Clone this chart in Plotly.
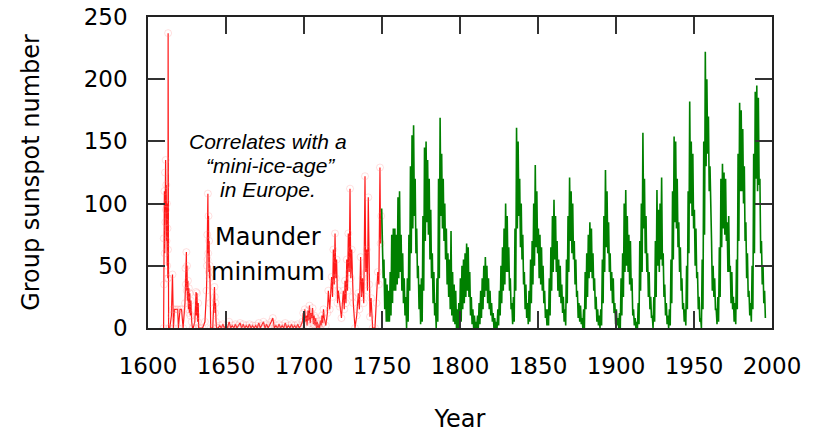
import plotly.graph_objects as go

# ---------------- data ----------------
# early (pre-1750) group sunspot observations, read off the picture
red_years = [
    1610.0, 1610.1, 1610.3, 1610.5, 1610.7, 1610.9, 1611.1, 1611.3, 1611.5, 1611.7,
    1611.9, 1612.1, 1612.3, 1612.5, 1612.7, 1612.8, 1612.9, 1613.0, 1613.2, 1614.0,
    1615.0, 1615.7, 1615.9, 1616.3, 1617.0, 1618.0, 1619.0, 1619.5, 1620.5, 1621.5,
    1622.5, 1623.7, 1624.0, 1624.3, 1624.6, 1624.8, 1625.0, 1625.3, 1625.6, 1625.9,
    1626.2, 1626.5, 1626.8, 1627.1, 1627.5, 1628.0, 1628.5, 1629.0, 1630.0, 1630.8,
    1631.0, 1631.4, 1631.8, 1632.2, 1632.5, 1633.5, 1635.0, 1636.5, 1637.5, 1637.8,
    1638.0, 1638.2, 1638.4, 1638.6, 1638.8, 1639.0, 1639.2, 1639.4, 1639.6, 1639.8,
    1640.2, 1641.5, 1642.6, 1642.8, 1643.0, 1643.3, 1643.6, 1644.0,
    1645, 1646, 1647, 1648, 1649, 1650, 1651, 1652, 1653, 1654, 1655, 1656, 1657,
    1658, 1659, 1660, 1661, 1662, 1663, 1664, 1665, 1666, 1667, 1668, 1669, 1670,
    1671, 1672, 1673, 1674, 1675, 1676, 1677, 1678, 1679, 1680, 1681, 1682, 1683,
    1684, 1685, 1686, 1687, 1688, 1689, 1690, 1691, 1692, 1693, 1694, 1695, 1696,
    1697, 1698,
    1699.0, 1699.5, 1700.0, 1700.5, 1701.0, 1701.5, 1702.0, 1702.5, 1703.0, 1703.5,
    1704.0, 1704.5, 1705.0, 1705.5, 1706.0, 1706.5, 1707.0, 1707.5, 1708.0, 1708.5,
    1709.0, 1709.5, 1710.0, 1710.5, 1711.0, 1711.5, 1712.0, 1712.5, 1713.0, 1714.0,
    1715.0, 1715.6, 1716.5, 1717.7, 1718.3, 1718.8, 1719.4, 1719.9, 1720.4, 1720.9,
    1721.5, 1722.0, 1723.0, 1724.0, 1725.2, 1725.8, 1726.3, 1726.9, 1727.4, 1727.9,
    1728.4, 1729.0, 1729.5, 1730.0, 1730.6, 1731.1, 1731.6, 1732.7, 1733.8, 1734.8,
    1735.5, 1736.3, 1736.9, 1737.5, 1738.3, 1739.1, 1739.6, 1740.2, 1740.7, 1741.2,
    1741.8, 1742.3, 1743.0, 1744.0, 1745.5, 1746.5, 1747.3, 1748.0, 1748.7, 1749.1,
    1749.5,
]
red_vals = [
    0, 72, 35, 110, 60, 125, 85, 135, 95, 115,
    70, 100, 50, 80, 40, 63, 237, 40, 0, 0,
    10, 43, 15, 0, 15, 15, 15, 0, 15, 15,
    0, 20, 48, 35, 61, 30, 50, 22, 38, 15,
    32, 12, 28, 10, 22, 5, 0, 0, 5, 29,
    10, 28, 5, 20, 0, 0, 0, 5, 30, 50,
    75, 55, 108, 60, 90, 45, 70, 40, 50, 20,
    0, 0, 33, 25, 12, 20, 5, 0,
    0, 2, 0, 3, 0, 2, 0, 5, 0, 2, 0, 3, 0,
    2, 4, 0, 3, 0, 2, 0, 3, 0, 2, 0, 2, 0,
    4, 0, 2, 5, 0, 3, 0, 2, 5, 8, 0, 2, 0,
    3, 0, 2, 0, 4, 0, 2, 0, 3, 0, 2, 0, 3,
    0, 2,
    5, 12, 3, 15, 5, 10, 2, 14, 6, 18,
    4, 12, 8, 16, 3, 10, 2, 8, 0, 5,
    0, 3, 0, 6, 2, 10, 4, 15, 8, 2,
    12, 30, 15, 41, 25, 63, 35, 76, 40, 55,
    20, 30, 17, 8, 30, 15, 38, 20, 55, 30,
    76, 45, 112, 40, 63, 25, 20, 0, 10, 28,
    15, 57, 25, 40, 20, 122, 45, 63, 30, 105,
    35, 9, 24, 0, 0, 20, 45, 35, 129, 68,
    90,
]

# 1750-1995: per-year upper and lower levels of the monthly group sunspot number
green_years = list(range(1750, 1996))
green_hi = [
    96, 55, 40, 35, 30, 45, 75, 80, 80, 75,          # 1750-1759
    105, 110, 75, 60, 40, 25, 40, 75, 130, 155,      # 1760-1769
    163, 120, 80, 50, 35, 40, 90, 145, 150, 135,     # 1770-1779
    120, 95, 60, 45, 20, 40, 120, 169, 140, 120,     # 1780-1789
    100, 80, 60, 55, 78, 45, 35, 30, 15, 20,         # 1790-1799
    40, 50, 55, 60, 68, 65, 45, 25, 15, 10,          # 1800-1809
    5, 10, 20, 30, 40, 50, 57, 50, 40, 30,           # 1810-1819
    20, 12, 8, 5, 15, 30, 50, 65, 80, 100,           # 1820-1829
    90, 65, 40, 20, 25, 80, 161, 150, 120, 100,      # 1830-1839
    75, 45, 35, 20, 30, 55, 70, 100, 131, 110,       # 1840-1849
    80, 75, 65, 50, 30, 15, 15, 40, 65, 90,          # 1850-1859
    103, 90, 70, 55, 50, 35, 25, 15, 55, 90,         # 1860-1869
    121, 110, 100, 70, 55, 30, 20, 18, 8, 15,        # 1870-1879
    45, 60, 75, 85, 80, 60, 40, 25, 15, 10,          # 1880-1889
    15, 55, 90, 127, 110, 85, 60, 45, 40, 20,        # 1890-1899
    15, 8, 12, 40, 60, 100, 111, 90, 75, 70,         # 1900-1909
    40, 15, 8, 5, 20, 70, 100, 157, 120, 90,         # 1910-1919
    60, 45, 25, 10, 25, 70, 111, 95, 100, 121,       # 1920-1929
    60, 35, 20, 10, 15, 55, 110, 154, 150, 120,      # 1930-1939
    85, 65, 40, 20, 15, 50, 110, 182, 150, 140,      # 1940-1949
    95, 80, 45, 25, 8, 55, 150, 222, 200, 170,       # 1950-1959
    130, 70, 50, 40, 15, 25, 65, 120, 132, 125,      # 1960-1969
    120, 85, 90, 50, 45, 25, 20, 55, 140, 181,       # 1970-1979
    175, 160, 130, 85, 60, 30, 20, 50, 140, 190,     # 1980-1989
    195, 185, 120, 70, 50, 30,                       # 1990-1995
]
green_lo = [
    40, 15, 5, 5, 5, 10, 20, 30, 30, 35,
    40, 45, 30, 20, 10, 0, 5, 30, 60, 80,
    90, 60, 40, 15, 3, 5, 30, 70, 85, 75,
    55, 40, 20, 10, 0, 5, 40, 90, 80, 70,
    55, 35, 25, 15, 10, 5, 3, 0, 0, 0,
    5, 15, 20, 25, 30, 25, 10, 3, 0, 0,
    0, 0, 3, 8, 15, 25, 30, 20, 15, 10,
    5, 0, 0, 0, 2, 10, 20, 30, 35, 45,
    45, 30, 15, 3, 5, 30, 80, 90, 65, 55,
    35, 15, 8, 3, 5, 20, 35, 50, 65, 60,
    40, 35, 30, 20, 8, 2, 2, 10, 30, 45,
    55, 45, 30, 25, 20, 12, 5, 2, 20, 45,
    70, 60, 55, 35, 25, 8, 5, 3, 0, 0,
    15, 25, 40, 45, 40, 30, 15, 5, 2, 0,
    2, 20, 45, 65, 60, 45, 30, 20, 12, 3,
    2, 0, 0, 10, 25, 45, 50, 45, 35, 30,
    10, 2, 0, 0, 3, 30, 45, 80, 60, 45,
    25, 15, 8, 0, 5, 25, 50, 45, 55, 50,
    25, 10, 3, 0, 2, 20, 55, 85, 80, 65,
    45, 30, 15, 5, 2, 15, 60, 100, 90, 80,
    50, 40, 15, 5, 0, 15, 75, 130, 140, 110,
    80, 30, 25, 15, 3, 5, 25, 65, 80, 75,
    70, 45, 45, 20, 15, 5, 3, 15, 70, 110,
    110, 100, 70, 40, 25, 10, 5, 15, 60, 120,
    110, 115, 60, 35, 20, 8,
]

x_ticks = [1600, 1650, 1700, 1750, 1800, 1850, 1900, 1950, 2000]
y_ticks = [0, 50, 100, 150, 200, 250]

# interleave upper/lower levels into a dense monthly-like trace
gx, gy = [], []
for yr, hi, lo in zip(green_years, green_hi, green_lo):
    gx += [yr + 0.25, yr + 0.75]
    gy += [hi, lo]
gx[0] = 1749.8

fig = go.Figure()
fig.add_trace(go.Scatter(
    x=red_years, y=red_vals, mode="lines+markers",
    line=dict(color="rgba(255,0,0,0.9)", width=1.2),
    marker=dict(symbol="circle-open", size=7,
                color="rgba(255,130,130,0.25)", line=dict(width=1)),
    showlegend=False,
))
fig.add_trace(go.Scatter(
    x=gx, y=gy, mode="lines",
    line=dict(color="#008000", width=1.6),
    showlegend=False,
))

font_main = "DejaVu Sans"
ann_it = dict(xref="x", yref="y", showarrow=False,
              font=dict(family="Liberation Sans", size=21, color="black"))
fig.add_annotation(x=1677, y=150, text="<i>Correlates with a</i>", **ann_it)
fig.add_annotation(x=1678.5, y=130.5, text="<i>“mini-ice-age”</i>", **ann_it)
fig.add_annotation(x=1677, y=111, text="<i>in Europe.</i>", **ann_it)
ann_n = dict(xref="x", yref="y", showarrow=False,
             font=dict(family=font_main, size=24, color="black"))
fig.add_annotation(x=1677, y=73, text="Maunder", **ann_n)
fig.add_annotation(x=1677, y=45, text="minimum", **ann_n)

axis_common = dict(
    showline=True, linecolor="#222", linewidth=1.5, mirror="ticks",
    ticks="inside", ticklen=17, tickwidth=1.5, tickcolor="#333",
    showgrid=False, zeroline=False, automargin=False,
    tickfont=dict(family=font_main, size=23, color="black"),
)
fig.update_xaxes(range=[1600, 2000], tickvals=x_ticks,
                 ticklabelstandoff=17,
                 title=dict(text="Year", standoff=32,
                            font=dict(family=font_main, size=24, color="black")),
                 **axis_common)
fig.update_yaxes(range=[0, 250], tickvals=y_ticks,
                 ticklabelstandoff=14,
                 title=dict(text="Group sunspot number", standoff=37,
                            font=dict(family=font_main, size=24, color="black")),
                 **axis_common)
fig.update_layout(
    width=820, height=433,
    margin=dict(l=148, r=48, t=17, b=105),
    plot_bgcolor="white", paper_bgcolor="white",
)
fig.write_html("out.html", config={"displayModeBar": False},
               post_script="document.body.style.margin='0';document.body.style.overflow='hidden';")
